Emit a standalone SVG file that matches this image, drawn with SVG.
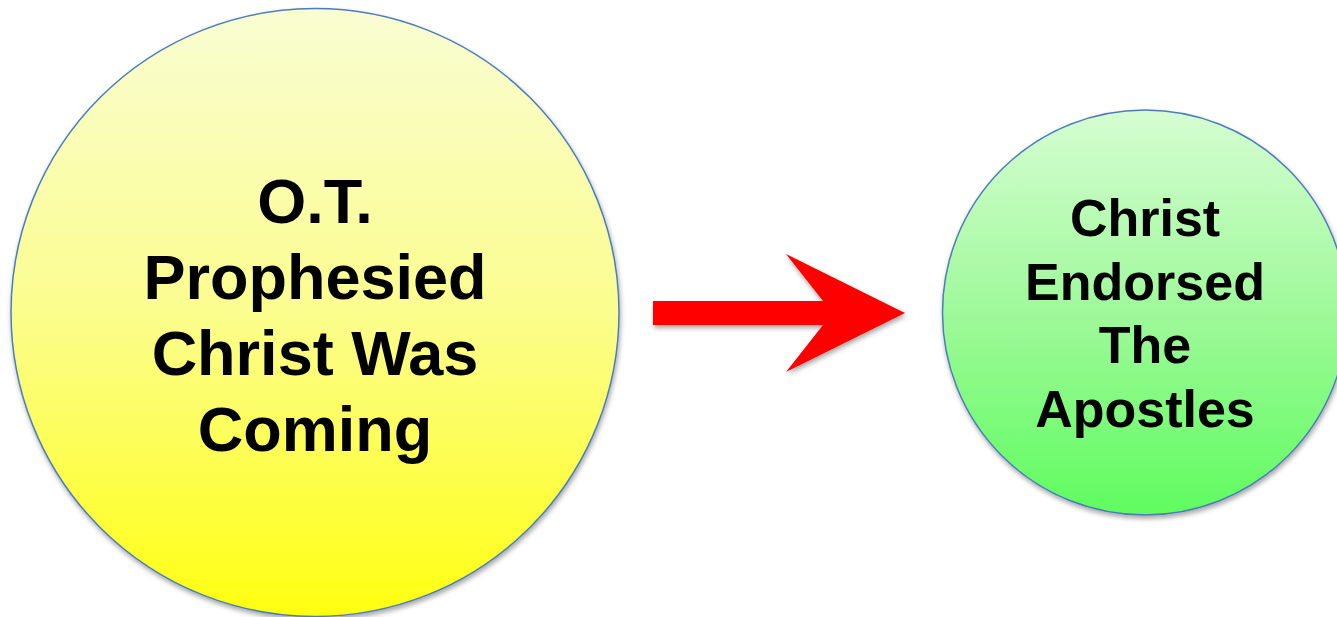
<svg xmlns="http://www.w3.org/2000/svg" width="1337" height="617" viewBox="0 0 1337 617">
<style>
.node{stroke:#4a7ebb;stroke-width:1.5}
.lbl{font-family:"Liberation Sans",Arial,sans-serif;font-weight:bold;fill:#000;text-anchor:middle}
</style>
<defs>
<linearGradient id="gy" x1="0" y1="0" x2="0" y2="1">
<stop offset="0" stop-color="#f9fdd2"/>
<stop offset="0.5" stop-color="#fbfd8e"/>
<stop offset="1" stop-color="#ffff10"/>
</linearGradient>
<linearGradient id="gg" x1="0" y1="0" x2="0" y2="1">
<stop offset="0" stop-color="#d6fdd2"/>
<stop offset="0.5" stop-color="#9ff99a"/>
<stop offset="1" stop-color="#5ffc5f"/>
</linearGradient>
<filter id="sh" x="-10%" y="-10%" width="120%" height="120%">
<feGaussianBlur in="SourceAlpha" stdDeviation="2.5"/>
<feOffset dx="1" dy="3" result="b"/>
<feComponentTransfer><feFuncA type="linear" slope="0.35"/></feComponentTransfer>
<feMerge><feMergeNode/><feMergeNode in="SourceGraphic"/></feMerge>
</filter>
</defs>
<rect width="1337" height="617" fill="#fff"/>
<g id="node-ot">
<circle class="node" cx="315" cy="312.5" r="304" fill="url(#gy)" filter="url(#sh)"/>
<text class="lbl" font-size="63" x="315" y="223">O.T.</text>
<text class="lbl" font-size="63" x="315" y="299">Prophesied</text>
<text class="lbl" font-size="63" x="315" y="375">Christ Was</text>
<text class="lbl" font-size="63" x="315" y="451">Coming</text>
</g>
<g id="node-christ">
<circle class="node" cx="1145" cy="312.5" r="202.5" fill="url(#gg)" filter="url(#sh)"/>
<text class="lbl" font-size="52" x="1145" y="236">Christ</text>
<text class="lbl" font-size="52" x="1145" y="300">Endorsed</text>
<text class="lbl" font-size="52" x="1145" y="363">The</text>
<text class="lbl" font-size="52" x="1145" y="427">Apostles</text>
</g>
<g id="connectors">
<polygon points="653,301 823,301 786,254 905,313 786,372 823,325 653,325" fill="#ff0000" filter="url(#sh)"/>
</g>
</svg>
